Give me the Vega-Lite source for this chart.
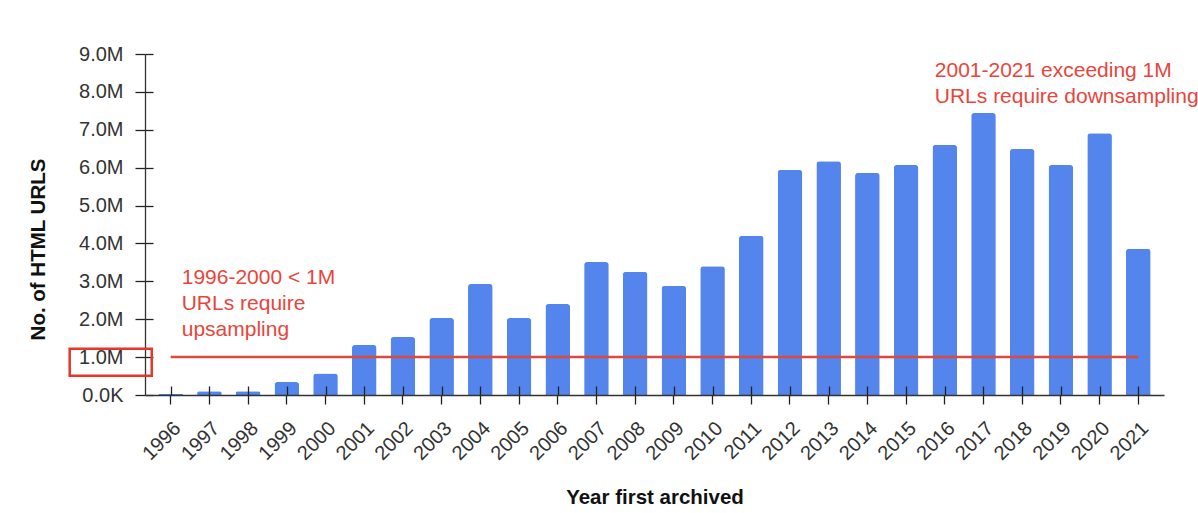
{
  "$schema": "https://vega.github.io/schema/vega-lite/v6.json",
  "width": 1019,
  "height": 341,
  "autosize": "none",
  "padding": {"left": 145, "top": 54, "right": 34, "bottom": 118},
  "background": "white",
  "config": {"font": "Liberation Sans", "view": {"stroke": null}},
  "datasets": {
    "bars": [
      {"year": 1996, "urls": 30000},
      {"year": 1997, "urls": 100000},
      {"year": 1998, "urls": 100000},
      {"year": 1999, "urls": 340000},
      {"year": 2000, "urls": 570000},
      {"year": 2001, "urls": 1320000},
      {"year": 2002, "urls": 1530000},
      {"year": 2003, "urls": 2030000},
      {"year": 2004, "urls": 2930000},
      {"year": 2005, "urls": 2030000},
      {"year": 2006, "urls": 2400000},
      {"year": 2007, "urls": 3510000},
      {"year": 2008, "urls": 3250000},
      {"year": 2009, "urls": 2880000},
      {"year": 2010, "urls": 3400000},
      {"year": 2011, "urls": 4200000},
      {"year": 2012, "urls": 5940000},
      {"year": 2013, "urls": 6170000},
      {"year": 2014, "urls": 5860000},
      {"year": 2015, "urls": 6070000},
      {"year": 2016, "urls": 6600000},
      {"year": 2017, "urls": 7440000},
      {"year": 2018, "urls": 6490000},
      {"year": 2019, "urls": 6070000},
      {"year": 2020, "urls": 6910000},
      {"year": 2021, "urls": 3860000}
    ],
    "threshold": [
      {"year": 1996, "urls": 1000000},
      {"year": 2021, "urls": 1000000}
    ],
    "noteLow": [
      {"year": 1996, "urls": 2940000, "label": "1996-2000 < 1M\nURLs require\nupsampling"}
    ],
    "noteHigh": [
      {"year": 2016, "urls": 8390000, "label": "2001-2021 exceeding 1M\nURLs require downsampling"}
    ],
    "box": [
      {"pos": 1993.39, "pos2": 1995.51, "urls": 510000, "hi": 1220000}
    ]
  },
  "resolve": {"scale": {"x": "independent"}, "axis": {"x": "independent", "y": "independent"}},
  "layer": [
    {
      "layer": [
        {
          "data": {"name": "bars"},
          "mark": {"type": "bar", "color": "#5385ec", "cornerRadiusTopLeft": 3, "cornerRadiusTopRight": 3},
          "encoding": {
            "x": {
              "field": "year",
              "type": "ordinal",
              "scale": {"paddingInner": 0.364, "paddingOuter": 0.346},
              "axis": {
                "title": "Year first archived",
                "titleFontSize": 20.5,
                "titleFontWeight": "bold",
                "titleColor": "#111",
                "titlePadding": 24,
                "labelAngle": -45,
                "labelAlign": "right",
                "labelBaseline": "middle",
                "labelFontSize": 20,
                "labelColor": "#333",
                "labelPadding": 21,
                "labelOffset": 7,
                "tickSize": 9,
                "tickColor": "#222",
                "tickWidth": 1.3,
                "domainColor": "#333",
                "domainWidth": 1.3,
                "zindex": 1
              }
            },
            "y": {
              "field": "urls",
              "type": "quantitative",
              "scale": {"domain": [0, 9000000], "nice": false},
              "axis": {
                "orient": "left",
                "tickCount": 10,
                "values": [0, 1000000, 2000000, 3000000, 4000000, 5000000, 6000000, 7000000, 8000000, 9000000],
                "labels": false,
                "domain": false,
                "grid": false,
                "title": null,
                "tickSize": -8,
                "tickColor": "#222",
                "tickWidth": 1.3
              }
            }
          }
        },
        {
          "data": {"name": "threshold"},
          "mark": {"type": "line", "color": "#dc4a3d", "strokeWidth": 2.5},
          "encoding": {
            "x": {"field": "year", "type": "ordinal"},
            "y": {"field": "urls", "type": "quantitative"}
          }
        },
        {
          "data": {"name": "noteLow"},
          "mark": {"type": "text", "align": "left", "baseline": "alphabetic", "dx": 11, "fontSize": 21, "lineHeight": 26, "lineBreak": "\n", "color": "#e8453c"},
          "encoding": {
            "x": {"field": "year", "type": "ordinal"},
            "y": {"field": "urls", "type": "quantitative"},
            "text": {"field": "label"}
          }
        },
        {
          "data": {"name": "noteHigh"},
          "mark": {"type": "text", "align": "left", "baseline": "alphabetic", "dx": -10, "fontSize": 21, "lineHeight": 26, "lineBreak": "\n", "color": "#e8453c"},
          "encoding": {
            "x": {"field": "year", "type": "ordinal"},
            "y": {"field": "urls", "type": "quantitative"},
            "text": {"field": "label"}
          }
        }
      ]
    },
    {
      "data": {"name": "box"},
      "mark": {"type": "rect", "fill": null, "stroke": "#e8352a", "strokeWidth": 2.5},
      "encoding": {
        "x": {
          "field": "pos",
          "type": "quantitative",
          "scale": {"domain": [1995.336, 2021.666], "nice": false, "zero": false},
          "axis": {
            "orient": "bottom",
            "tickCount": 30,
            "values": [1996, 1997, 1998, 1999, 2000, 2001, 2002, 2003, 2004, 2005, 2006, 2007, 2008, 2009, 2010, 2011, 2012, 2013, 2014, 2015, 2016, 2017, 2018, 2019, 2020, 2021],
            "labels": false,
            "domain": false,
            "grid": false,
            "title": null,
            "tickSize": -9,
            "tickColor": "#222",
            "tickWidth": 1.3,
            "zindex": 1
          }
        },
        "x2": {"field": "pos2"},
        "y": {
          "field": "urls",
          "type": "quantitative",
          "axis": {
            "orient": "left",
            "title": "No. of HTML URLS",
            "titleFontSize": 20.5,
            "titleFontWeight": "bold",
            "titleColor": "#111",
            "titlePadding": 30,
            "titleY": 195,
            "tickCount": 10,
            "values": [0, 1000000, 2000000, 3000000, 4000000, 5000000, 6000000, 7000000, 8000000, 9000000],
            "labelExpr": "datum.value == 0 ? '0.0K' : format(datum.value / 1000000, '.1f') + 'M'",
            "labelOverlap": false,
            "labelFontSize": 20,
            "labelColor": "#333",
            "labelPadding": 12,
            "tickSize": 10,
            "tickColor": "#222",
            "tickWidth": 1.3,
            "domainColor": "#333",
            "domainWidth": 1.3,
            "grid": false
          }
        },
        "y2": {"field": "hi"}
      }
    }
  ]
}
